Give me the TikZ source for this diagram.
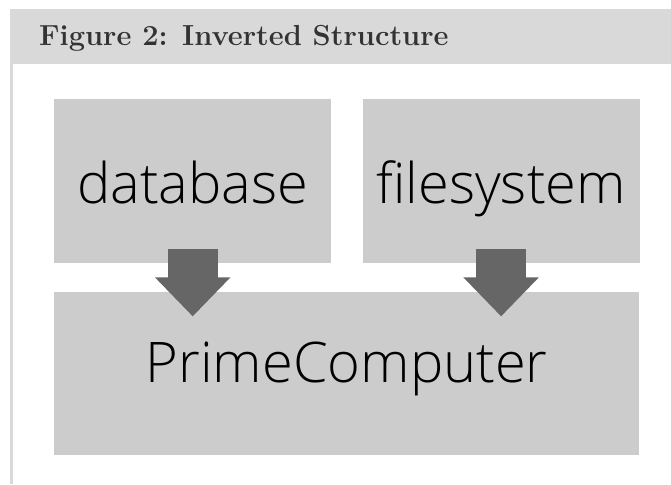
\documentclass[tikz,border=0pt]{standalone}
\usepackage{fontspec}
\newfontfamily\boxfont{Open Sans Light}
\usetikzlibrary{positioning,calc,arrows.meta}
\definecolor{barGray}{HTML}{D9D9D9}
\definecolor{boxGray}{HTML}{CCCCCC}
\definecolor{arrowGray}{HTML}{666666}
\definecolor{titleGray}{HTML}{333333}
\tikzset{
  box/.style={fill=boxGray, inner sep=0pt, anchor=north west, font=\boxfont\fontsize{56}{60}\selectfont},
  fat arrow/.style={arrowGray, line width=50pt, -{Triangle[width=73pt,length=39pt]}}
}
\begin{document}
\begin{tikzpicture}[x=1pt,y=-1pt]
    \useasboundingbox (0,0) rectangle (671,484);
    \fill [barGray] (10,9) rectangle (671,64);
    \fill [barGray] (10,64) rectangle (13,484);
    \node [anchor=base west, inner sep=0pt, text=titleGray, font=\fontsize{29}{34}\bfseries] (title) at (39,46) {Figure 2: Inverted Structure};

    \node [box, minimum width=277pt, minimum height=164pt, text height=44pt, text depth=0pt] (db) at (54,99) {database};
    \node [box, minimum width=277pt, minimum height=164pt, text height=44pt, text depth=0pt, right=31pt of db.north east, anchor=north west] (fs) {filesystem};
    \node [box, minimum width=585pt, minimum height=163pt, text height=40pt, text depth=21pt, below right=28pt and 0pt of db.south west] (pc) {PrimeComputer};

    % arrows into PrimeComputer
    \draw [fat arrow] ($(db.south)+(0,-14)$) -- ($(db.south |- pc.north)+(0,25)$);
    \draw [fat arrow] ($(fs.south)+(0,-14)$) -- ($(fs.south |- pc.north)+(0,25)$);
\end{tikzpicture}
\end{document}
